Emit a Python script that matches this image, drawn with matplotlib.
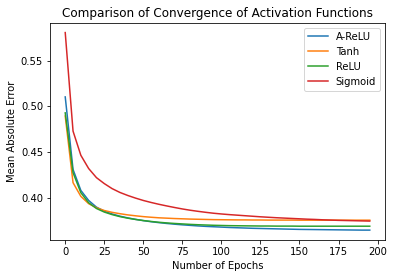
import matplotlib
matplotlib.use("Agg")
import matplotlib.pyplot as plt
import numpy as np

# ─── DATA ───────────────────────────────────────────────
epochs = np.arange(0, 200, 5)

arelu = [0.5105, 0.4310, 0.4080, 0.3970, 0.3897, 0.3853, 0.3822, 0.3798, 0.3779, 0.3763,
         0.3749, 0.3737, 0.3727, 0.3718, 0.3710, 0.3703, 0.3697, 0.3691, 0.3686, 0.3682,
         0.3678, 0.3674, 0.3671, 0.3668, 0.3665, 0.3663, 0.3661, 0.3659, 0.3657, 0.3655,
         0.3653, 0.3652, 0.3651, 0.3650, 0.3649, 0.3648, 0.3647, 0.3646, 0.3645, 0.3645]

tanh = [0.4895, 0.4165, 0.4015, 0.3935, 0.3890, 0.3860, 0.3840, 0.3825, 0.3812, 0.3802,
        0.3793, 0.3786, 0.3780, 0.3776, 0.3772, 0.3769, 0.3766, 0.3764, 0.3762, 0.3760,
        0.3759, 0.3758, 0.3757, 0.3757, 0.3756, 0.3756, 0.3755, 0.3755, 0.3755, 0.3755,
        0.3754, 0.3754, 0.3754, 0.3754, 0.3754, 0.3754, 0.3754, 0.3754, 0.3754, 0.3754]

relu = [0.4930, 0.4275, 0.4055, 0.3945, 0.3882, 0.3843, 0.3815, 0.3793, 0.3776, 0.3762,
        0.3750, 0.3740, 0.3731, 0.3724, 0.3718, 0.3713, 0.3708, 0.3704, 0.3701, 0.3698,
        0.3696, 0.3694, 0.3693, 0.3692, 0.3691, 0.3690, 0.3690, 0.3689, 0.3689, 0.3689,
        0.3688, 0.3688, 0.3688, 0.3688, 0.3688, 0.3688, 0.3688, 0.3688, 0.3688, 0.3688]

sigmoid = [0.5810, 0.4730, 0.4465, 0.4320, 0.4220, 0.4155, 0.4100, 0.4058, 0.4025, 0.3996,
           0.3970, 0.3948, 0.3928, 0.3910, 0.3893, 0.3877, 0.3863, 0.3851, 0.3840, 0.3830,
           0.3822, 0.3815, 0.3809, 0.3803, 0.3797, 0.3791, 0.3786, 0.3781, 0.3777, 0.3773,
           0.3769, 0.3765, 0.3762, 0.3758, 0.3755, 0.3752, 0.3750, 0.3748, 0.3746, 0.3744]

# ─── PLOT ───────────────────────────────────────────────
fig = plt.figure(figsize=(394/72, 278/72), dpi=72)
ax = fig.add_axes([50/394, 38/278, 335/394, 217.3/278])

ax.plot(epochs, arelu, label='A-ReLU')
ax.plot(epochs, tanh, label='Tanh')
ax.plot(epochs, relu, label='ReLU')
ax.plot(epochs, sigmoid, label='Sigmoid')

ax.set_title('Comparison of Convergence of Activation Functions')
ax.set_xlabel('Number of Epochs')
ax.set_ylabel('Mean Absolute Error')
ax.legend(loc='upper right')

plt.savefig("out.png", dpi=72)
